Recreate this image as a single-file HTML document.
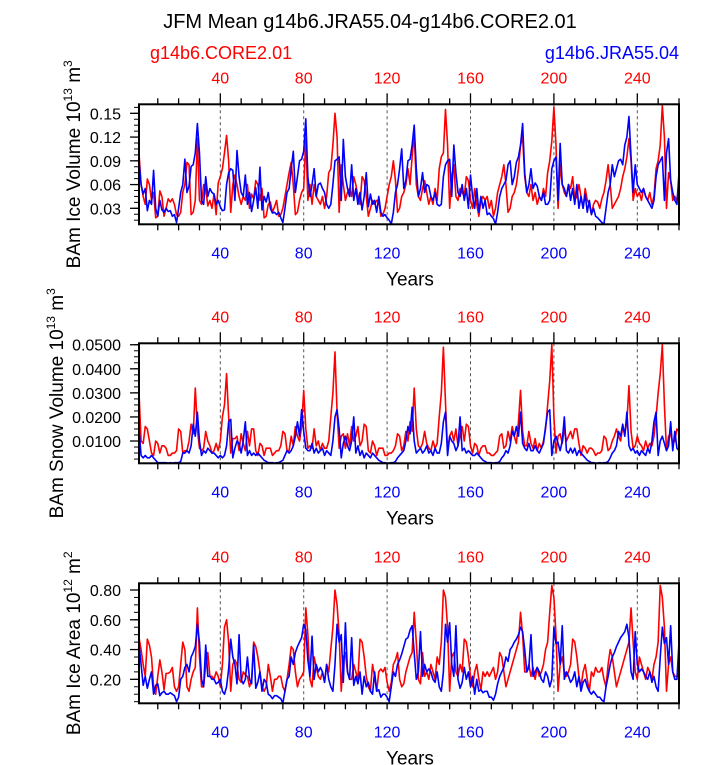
<!DOCTYPE html>
<html><head><meta charset="utf-8"><style>
html,body{margin:0;padding:0;background:#fff;}
svg{display:block;font-family:"Liberation Sans",Arial,sans-serif;}
</style></head><body>
<svg id="chart" width="723" height="765" viewBox="0 0 723 765" xmlns="http://www.w3.org/2000/svg">
<text x="370" y="28" font-size="20" text-anchor="middle" fill="#000">JFM Mean g14b6.JRA55.04-g14b6.CORE2.01</text>
<text x="150" y="59" font-size="18" fill="#ff0000">g14b6.CORE2.01</text>
<text x="679" y="59" font-size="18" text-anchor="end" fill="#0000ff">g14b6.JRA55.04</text>
<g id="plots"></g>
</svg>
<script>
// Ice volume (10^13 m^3)
const iceVolJRA = [0.090,0.060,0.048,0.055,0.027,0.040,0.035,0.078,0.030,0.020,0.040,0.028,0.025,0.030,0.026,0.027,0.020,0.022,0.012,0.030,0.050,0.060,0.092,0.050,0.058,0.083,0.085,0.100,0.137,0.100,0.040,0.035,0.070,0.045,0.055,0.050,0.048,0.035,0.040,0.032,0.027,0.028,0.060,0.075,0.080,0.078,0.040,0.103,0.070,0.050,0.045,0.072,
0.035,0.050,0.026,0.040,0.056,0.030,0.082,0.028,0.045,0.038,0.050,0.030,0.024,0.025,0.022,0.025,0.018,0.012,0.030,0.050,0.055,0.080,0.102,0.050,0.070,0.090,0.092,0.102,0.143,0.070,0.045,0.060,0.080,0.045,0.060,0.062,0.055,0.050,0.035,0.030,0.035,0.060,0.090,0.092,0.095,0.040,0.117,0.070,0.055,0.045,0.085,0.040,
0.055,0.035,0.050,0.028,0.045,0.075,0.032,0.048,0.035,0.040,0.025,0.045,0.025,0.020,0.022,0.018,0.015,0.010,0.025,0.050,0.060,0.080,0.105,0.055,0.065,0.090,0.092,0.110,0.135,0.080,0.045,0.055,0.075,0.050,0.060,0.058,0.045,0.040,0.050,0.035,0.033,0.035,0.070,0.085,0.090,0.092,0.045,0.110,0.075,0.050,0.045,0.060,
0.040,0.055,0.030,0.072,0.045,0.030,0.055,0.025,0.045,0.030,0.040,0.022,0.024,0.020,0.017,0.010,0.025,0.045,0.055,0.060,0.065,0.085,0.090,0.060,0.070,0.088,0.095,0.110,0.137,0.075,0.050,0.060,0.080,0.055,0.062,0.058,0.045,0.040,0.050,0.035,0.035,0.040,0.080,0.090,0.095,0.040,0.112,0.060,0.055,0.045,0.060,0.040,
0.055,0.035,0.060,0.030,0.045,0.030,0.048,0.025,0.040,0.022,0.030,0.020,0.018,0.015,0.012,0.010,0.030,0.050,0.060,0.085,0.070,0.080,0.090,0.092,0.085,0.110,0.120,0.146,0.095,0.050,0.085,0.060,0.055,0.050,0.055,0.045,0.040,0.035,0.030,0.040,0.070,0.085,0.090,0.095,0.040,0.100,0.118,0.065,0.050,0.040,0.035,0.075];
const iceVolCORE = [0.100,0.060,0.045,0.035,0.067,0.060,0.040,0.050,0.018,0.020,0.052,0.045,0.020,0.030,0.042,0.038,0.042,0.035,0.022,0.020,0.025,0.050,0.060,0.088,0.085,0.022,0.025,0.040,0.118,0.040,0.035,0.060,0.055,0.033,0.040,0.030,0.048,0.022,0.062,0.070,0.080,0.100,0.122,0.090,0.025,0.060,0.072,0.060,0.045,0.035,0.045,0.040,
0.060,0.030,0.048,0.042,0.065,0.060,0.040,0.055,0.018,0.020,0.035,0.038,0.025,0.032,0.040,0.020,0.022,0.030,0.045,0.060,0.075,0.088,0.060,0.022,0.025,0.040,0.050,0.055,0.118,0.040,0.060,0.035,0.060,0.045,0.040,0.035,0.045,0.030,0.045,0.075,0.080,0.110,0.150,0.120,0.025,0.085,0.060,0.040,0.050,0.055,0.045,0.070,
0.060,0.045,0.035,0.070,0.065,0.045,0.020,0.030,0.040,0.035,0.040,0.040,0.020,0.022,0.030,0.045,0.060,0.070,0.090,0.065,0.025,0.030,0.045,0.050,0.060,0.080,0.060,0.095,0.125,0.060,0.045,0.040,0.055,0.065,0.050,0.035,0.045,0.035,0.055,0.040,0.080,0.095,0.100,0.155,0.110,0.030,0.070,0.085,0.045,0.040,0.055,0.050,
0.045,0.070,0.065,0.040,0.030,0.055,0.035,0.020,0.040,0.045,0.040,0.045,0.030,0.040,0.020,0.030,0.050,0.060,0.070,0.085,0.060,0.025,0.030,0.045,0.050,0.060,0.080,0.110,0.120,0.070,0.050,0.045,0.060,0.040,0.050,0.035,0.045,0.040,0.055,0.045,0.075,0.090,0.115,0.158,0.110,0.030,0.085,0.060,0.050,0.045,0.060,0.055,
0.070,0.040,0.045,0.060,0.045,0.030,0.055,0.040,0.035,0.022,0.035,0.040,0.038,0.030,0.042,0.050,0.065,0.085,0.060,0.030,0.035,0.040,0.045,0.055,0.070,0.080,0.095,0.118,0.090,0.040,0.055,0.045,0.050,0.040,0.055,0.045,0.040,0.050,0.035,0.045,0.080,0.090,0.110,0.160,0.120,0.030,0.075,0.065,0.040,0.045,0.040,0.060];
// Snow volume (units of 0.001 x 10^13 m^3)
const snowVolJRA = [15,4,3,4,3,3,4,3,2,1,1,1,1,1,0.8,1,0.8,1,1,1,1.5,5,5,6,5,8,17,12,22,10,4,6,5,7,6,5,5,4,3,4,3,4,8,18,19,3,7,10,9,5,10,18,
4,6,4,5,4,5,4,3,2,1.5,1,1,1,0.8,1,1,1.5,2,4,6,5,6,8,12,18,12,23,14,7,6,6,9,5,7,5,6,7,4,6,5,4,10,20,23,15,3,9,12,8,6,10,20,
5,8,4,6,3,5,4,3,5,4,3,2,1.5,1,1,0.8,0.8,1,1,1.5,3,4,5,6,10,16,13,24,10,5,6,7,5,6,8,5,6,4,7,5,5,9,18,22,4,12,10,9,6,8,20,6,
7,5,6,5,4,4,5,4,3,2,1.5,1,1,1,0.8,1,1,1.5,3,4,6,5,8,14,12,16,12,22,9,7,6,9,6,6,8,6,5,7,9,16,22,23,4,10,12,9,6,10,20,6,5,7,
5,7,4,6,5,4,3,2,1.5,1,1,0.8,0.8,1,0.8,1,1,1.5,3,5,6,8,14,12,17,12,22,8,6,7,5,6,4,6,5,4,7,5,10,18,22,4,10,12,9,6,8,18,6,14,7,6];
const snowVolCORE = [30,10,9,16,15,10,5,4,10,9,5,8,8,7,4,4,5,5,6,15,14,5,6,6,10,17,13,32,15,7,6,7,14,10,8,5,6,9,6,10,20,25,38,20,5,11,11,12,6,13,9,6,
14,8,15,15,6,4,9,8,4,7,7,7,4,5,6,6,8,14,13,6,6,12,8,16,12,10,16,31,15,7,8,7,15,8,10,6,9,7,7,10,20,30,47,22,7,12,13,7,13,8,16,10,
12,16,8,10,17,16,6,5,10,8,4,7,7,7,4,4,5,5,6,8,13,12,6,8,14,10,18,14,32,15,8,7,9,14,9,7,6,10,7,9,20,30,49,26,6,12,14,10,15,8,12,16,
10,17,16,8,5,9,8,4,7,8,8,5,5,4,4,5,6,12,13,7,8,14,10,16,12,9,18,31,14,8,8,14,9,7,11,6,9,7,10,15,25,35,50,20,5,12,13,9,15,10,12,14,
11,15,15,9,4,8,7,5,7,7,6,4,5,5,6,12,11,6,7,10,12,15,12,10,16,13,18,33,14,7,8,12,9,8,6,10,7,9,8,12,20,30,38,50,25,6,12,13,9,10,15,14];
// Ice area (units of 0.01 x 10^12 m^2)
const iceAreaJRA = [44,30,16,22,14,20,25,10,16,17,9,11,12,10,10,11,10,9,5,8,20,22,28,30,25,35,38,42,57,45,20,15,43,22,22,20,20,17,18,20,12,10,15,27,47,35,30,17,50,20,17,20,
35,20,17,43,14,18,25,12,20,18,10,9,7,9,9,8,7,4,12,20,22,35,30,38,42,45,48,57,53,33,22,49,20,30,25,28,25,18,30,20,15,12,30,57,45,50,18,58,25,20,48,16,
22,17,25,10,22,15,18,12,10,25,12,13,8,10,10,8,5,15,25,22,30,33,37,42,47,48,53,56,38,20,25,52,22,30,25,27,25,20,18,25,15,12,25,57,45,58,30,22,56,20,14,18,
28,20,25,15,22,10,20,12,13,11,12,12,8,8,6,10,17,22,25,28,35,32,40,42,45,47,50,55,52,40,25,28,50,22,25,28,25,20,18,25,22,15,20,55,44,45,30,56,20,25,22,18,
20,25,15,22,12,18,20,15,12,10,12,10,8,8,6,5,15,22,30,35,38,42,45,48,50,52,57,48,25,20,52,30,25,27,25,22,20,25,18,22,15,12,35,55,44,48,30,56,25,20,20,45];
const iceAreaCORE = [48,40,30,22,47,43,35,15,10,22,33,25,13,24,24,25,28,15,12,15,30,45,40,15,12,20,25,28,68,35,15,15,30,38,22,22,20,25,22,15,30,55,60,45,12,30,33,30,20,18,25,23,
22,15,20,45,42,35,25,15,12,15,30,22,12,20,20,22,22,15,12,20,30,42,40,25,15,20,22,25,68,50,20,15,35,28,22,20,25,18,30,25,40,55,80,70,50,12,35,38,25,20,20,30,
25,20,47,45,35,22,15,12,30,22,12,25,27,25,28,18,12,18,30,33,38,20,15,17,25,30,35,38,65,45,20,17,38,22,25,20,30,25,20,35,30,45,80,75,55,12,35,38,25,22,30,25,
47,45,35,22,15,25,30,20,13,25,22,25,22,25,28,20,25,38,35,25,15,20,25,30,35,40,45,65,50,25,25,30,22,28,20,28,22,25,30,40,45,65,83,75,50,12,30,35,25,22,25,30,
47,45,35,22,15,25,30,20,12,25,22,28,25,25,28,20,15,30,40,35,25,15,20,25,30,35,40,45,68,45,25,20,35,30,25,20,28,25,20,30,35,45,83,75,55,12,30,35,25,22,22,22];
const xTickLabels = [40,80,120,160,200,240];
const iceVolTicks = [0.03,0.06,0.09,0.12,0.15];
const snowVolTicks = [0.01,0.02,0.03,0.04,0.05];
const iceAreaTicks = [0.2,0.4,0.6,0.8];

const NS = "http://www.w3.org/2000/svg";
const root = document.getElementById('plots');
function mk(tag, attrs, parent){ const e=document.createElementNS(NS,tag); for(const k in attrs) e.setAttribute(k,attrs[k]); (parent||root).appendChild(e); return e; }
const X0=139, X1=679, YR0=1, YR1=260;
const xs = yr => X0 + (yr-YR0)*(X1-X0)/(YR1-YR0);

const panels = [
 {key:'ice-volume', top:104.3, bot:224.3, ymin:0.0098, ymax:0.1614, ticks:iceVolTicks, minor:0.0075, dec:2, factor:1, blue:iceVolJRA, red:iceVolCORE, label:['BAm Ice Volume 10','13',' m','3'], lx:80},
 {key:'snow-volume', top:343.3, bot:463.3, ymin:0.00074, ymax:0.0506, ticks:snowVolTicks, minor:0.0025, dec:4, factor:0.001, blue:snowVolJRA, red:snowVolCORE, label:['BAm Snow Volume 10','13',' m','3'], lx:63},
 {key:'ice-area', top:583.3, bot:703.3, ymin:0.039, ymax:0.845, ticks:iceAreaTicks, minor:0.05, dec:2, factor:0.01, blue:iceAreaJRA, red:iceAreaCORE, label:['BAm Ice Area 10','12',' m','2'], lx:80}
];

panels.forEach(p=>{
  const g = mk('g',{});
  
  
  const ys = v => p.bot - (v-p.ymin)*(p.bot-p.top)/(p.ymax-p.ymin);
  xTickLabels.forEach(t=>{
    const l = mk('line',{x1:xs(t),x2:xs(t),y1:p.top,y2:p.bot,stroke:'#555','stroke-width':1,'stroke-dasharray':'3,3'},g);
    
    
  });
  [['red',p.red,'#ff0000','core2'],['blue',p.blue,'#0000ff','jra55']].forEach(s=>{
    let d='';
    s[1].forEach((v,i)=>{ d += (i?'L':'M') + xs(i+1).toFixed(2)+','+ys(v*p.factor).toFixed(2); });
    const path = mk('path',{d:d,fill:'none',stroke:s[2],'stroke-width':1.6,'stroke-linejoin':'round'},g);
    
    
  });
  const fr = mk('rect',{x:X0,y:p.top,width:X1-X0,height:p.bot-p.top,fill:'none',stroke:'#000','stroke-width':2},g);
  
  
  for(let t=10;t<=260;t+=10){
    const major = t%40===0;
    mk('line',{x1:xs(t),x2:xs(t),y1:p.top,y2:p.top-(major?11:6),stroke:'#000','stroke-width':1.3},g);
    mk('line',{x1:xs(t),x2:xs(t),y1:p.bot,y2:p.bot+6,stroke:'#000','stroke-width':1.3},g);
  }
  xTickLabels.forEach(t=>{
    const a = mk('text',{x:xs(t),y:p.top-21,'font-size':16,'text-anchor':'middle',fill:'#ff0000'},g);
    a.textContent=t;
    
    
    const b = mk('text',{x:xs(t),y:p.bot+34,'font-size':16,'text-anchor':'middle',fill:'#0000ff'},g);
    b.textContent=t;
    
    
  });
  const yt = mk('text',{x:410,y:p.bot+61,'font-size':19,'text-anchor':'middle',fill:'#000'},g);
  yt.textContent='Years';
  
  
  const base = p.ticks[0];
  for(let k=-10;k<200;k++){
    const v = base + k*p.minor;
    if(v<p.ymin-1e-9||v>p.ymax+1e-9) continue;
    mk('line',{x1:X0,x2:X0-5,y1:ys(v),y2:ys(v),stroke:'#000','stroke-width':1},g);
  }
  p.ticks.forEach(v=>{
    mk('line',{x1:X0,x2:X0-9,y1:ys(v),y2:ys(v),stroke:'#000','stroke-width':1.3},g);
    const tl = mk('text',{x:121,y:ys(v)+6,'font-size':16,'text-anchor':'end',fill:'#000'},g);
    tl.textContent = v.toFixed(p.dec);
    
    
  });
  const cy=(p.top+p.bot)/2;
  const lab = mk('text',{transform:'translate('+p.lx+','+cy+') rotate(-90)','font-size':19,'text-anchor':'middle',fill:'#000'},g);
  
  
  const parts=[[p.label[0],0],[p.label[1],1],[p.label[2],0],[p.label[3],1]];
  parts.forEach((pt,i)=>{
    const ts = mk('tspan',pt[1]?{'font-size':12,dy:-8}:{dy:i===0?0:8},lab);
    ts.textContent=pt[0];
  });
});
</script>
</body></html>
